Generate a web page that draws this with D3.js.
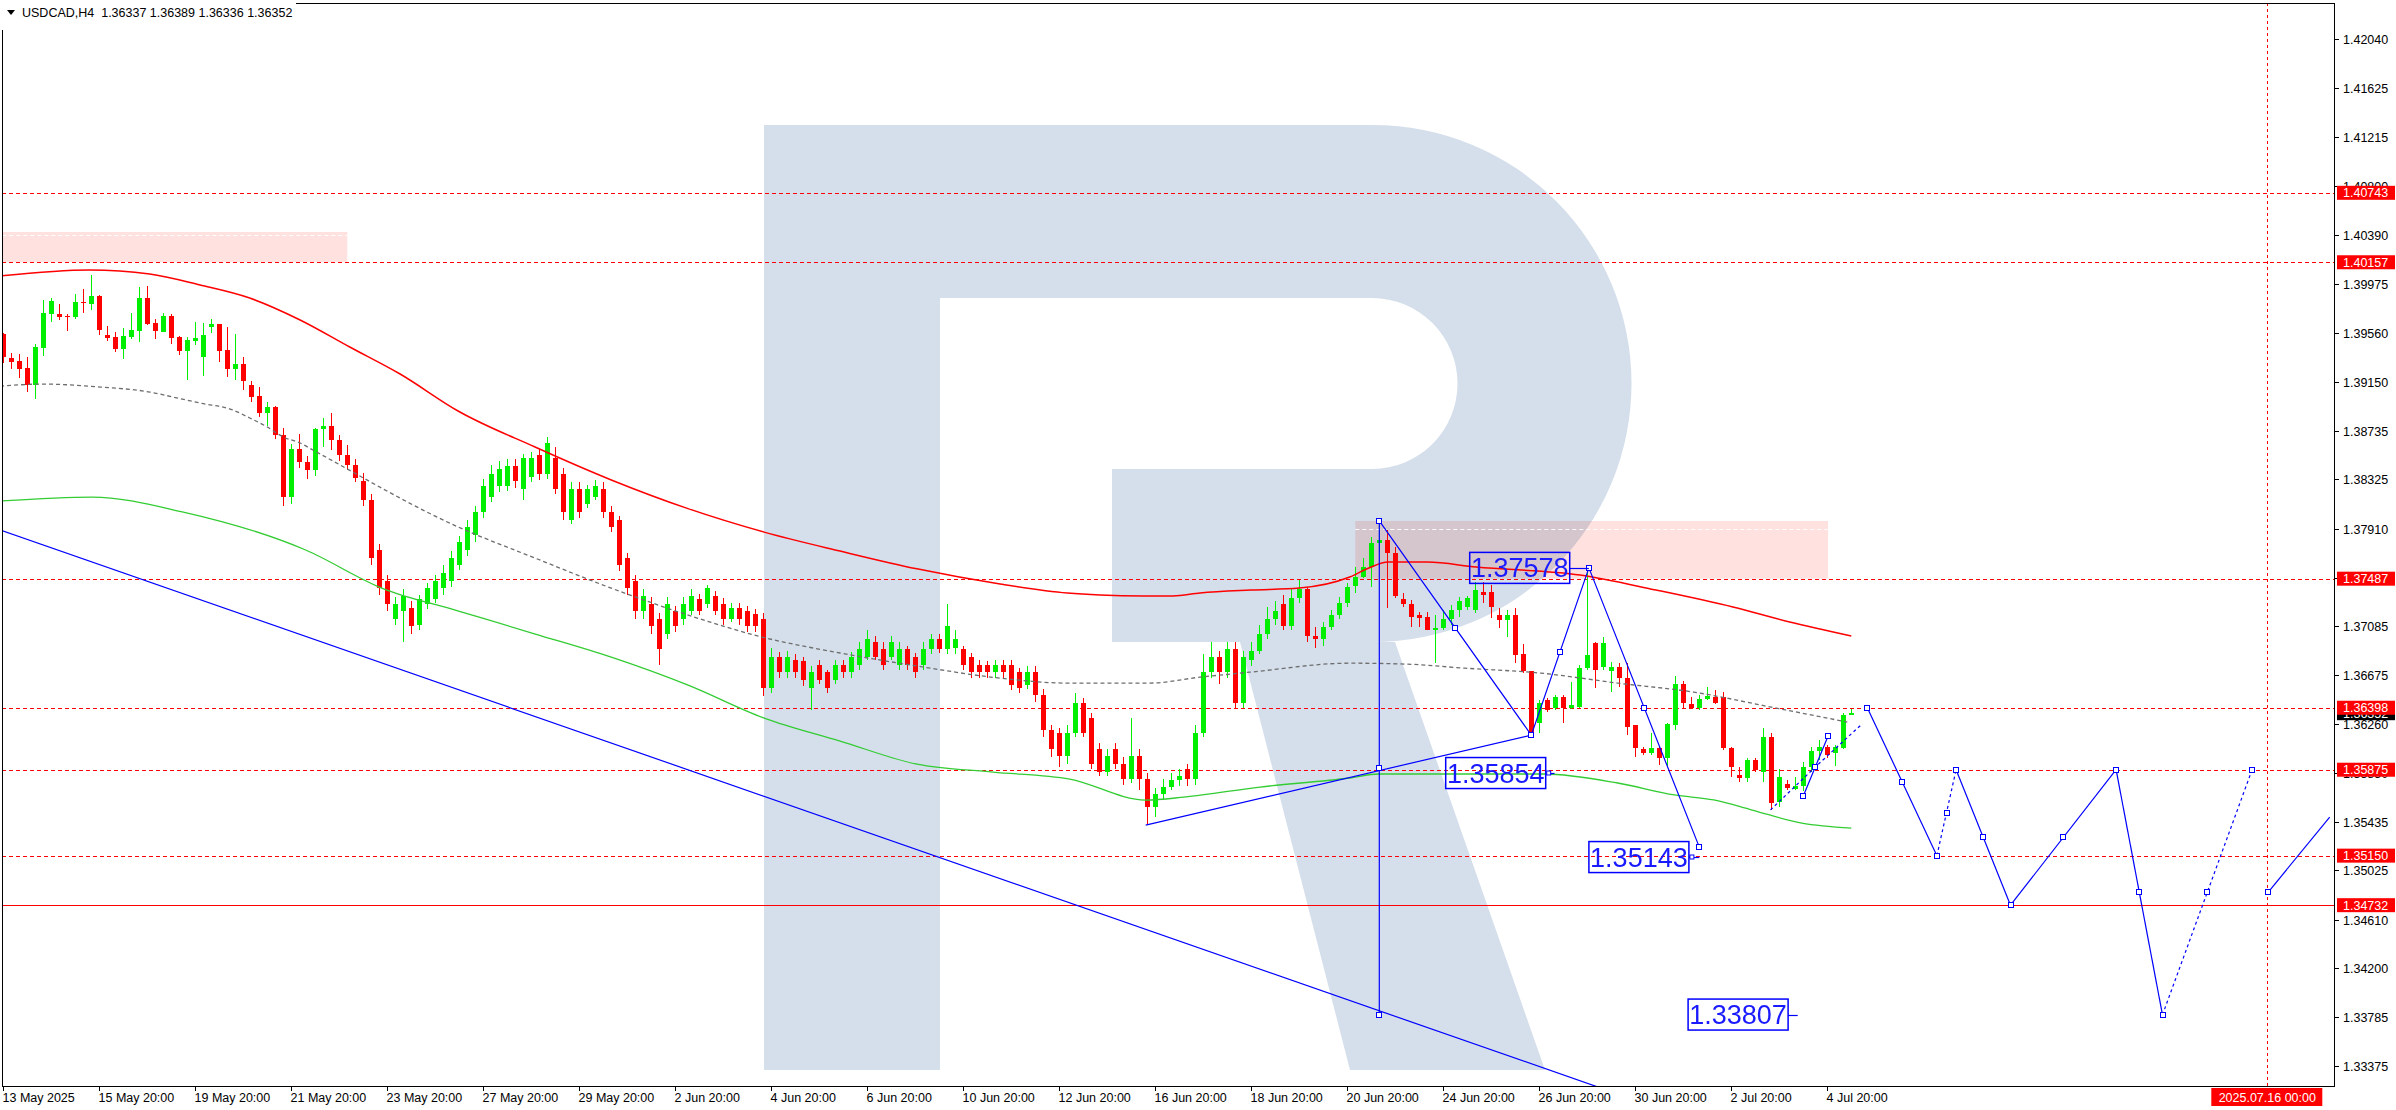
<!DOCTYPE html>
<html><head><meta charset="utf-8">
<script src="https://cdn.jsdelivr.net/npm/d3@7"></script>
<style>
html,body{margin:0;padding:0;background:#fff;overflow:hidden;}
svg{display:block;font-family:"Liberation Sans",Arial,sans-serif;}
</style></head><body>
<svg id="chart" width="2396" height="1110"></svg>
<script>
// ---------------- DATA ----------------
const symbolTitle = "USDCAD,H4";
const headerValues = ["1.36337", "1.36389", "1.36336", "1.36352"];

const openP = [
1.39551,1.39346,1.39323,1.39264,1.39121,1.39436,1.39723,1.39720,1.39706,1.39697,
1.39821,1.39807,1.39872,1.39543,1.39526,1.39424,1.39526,1.39576,1.39855,1.39644,
1.39568,1.39703,1.39526,1.39410,1.39495,1.39360,1.39613,1.39635,1.39416,1.39258,
1.39298,1.39121,1.39028,1.38887,1.38935,1.38702,1.38180,1.38580,1.38470,1.38400,
1.38752,1.38775,1.38656,1.38530,1.38450,1.38309,1.38150,1.37728,1.37471,1.37148,
1.37213,1.37238,1.37100,1.37277,1.37316,1.37406,1.37471,1.37600,1.37728,1.37857,
1.38051,1.38180,1.38270,1.38270,1.38438,1.38244,1.38347,1.38528,1.38373,1.38502,
1.38373,1.37986,1.38244,1.38115,1.38180,1.38244,1.38051,1.37986,1.37664,1.37471,
1.37213,1.37277,1.37148,1.37020,1.37213,1.37148,1.37213,1.37316,1.37277,1.37342,
1.37277,1.37148,1.37238,1.37213,1.37188,1.37148,1.36568,1.36826,1.36697,1.36800,
1.36790,1.36568,1.36761,1.36697,1.36633,1.36761,1.36697,1.36761,1.36826,1.36955,
1.36890,1.36826,1.36761,1.36890,1.36826,1.36761,1.36890,1.36981,1.36890,1.36900,
1.36890,1.36826,1.36761,1.36761,1.36697,1.36761,1.36761,1.36697,1.36594,1.36697,
1.36503,1.36207,1.36181,1.35988,1.36181,1.36439,1.36310,1.36052,1.35859,1.36052,
1.35923,1.35794,1.35990,1.35794,1.35560,1.35666,1.35730,1.35790,1.35880,1.35794,
1.36181,1.36697,1.36826,1.36697,1.36890,1.36439,1.36800,1.36880,1.37020,1.37150,
1.37270,1.37084,1.37320,1.37400,1.37000,1.36980,1.37080,1.37180,1.37280,1.37428,
1.37498,1.37588,1.37785,1.37813,1.37701,1.37316,1.37271,1.37181,1.37167,1.37050,
1.37069,1.37150,1.37224,1.37250,1.37224,1.37378,1.37378,1.37181,1.37139,1.37181,
1.36853,1.36704,1.36266,1.36463,1.36393,1.36491,1.36393,1.36407,1.36731,1.36942,
1.36745,1.36711,1.36745,1.36646,1.36252,1.36047,1.36013,1.36056,1.35971,1.36252,
1.36600,1.36431,1.36393,1.36470,1.36491,1.36491,1.36056,1.35831,1.35803,1.35957,
1.35859,1.36154,1.35606,1.35754,1.35712,1.35734,1.35901,1.36029,1.36070,1.36014,
1.36056,1.36337];
const highP = [
1.39560,1.39394,1.39382,1.39357,1.39467,1.39838,1.39855,1.39804,1.39720,1.39889,
1.39931,1.40046,1.39880,1.39619,1.39568,1.39602,1.39725,1.39948,1.39956,1.39678,
1.39728,1.39717,1.39534,1.39523,1.39652,1.39644,1.39678,1.39635,1.39610,1.39551,
1.39357,1.39157,1.39101,1.38977,1.38943,1.38760,1.38620,1.38712,1.38520,1.38760,
1.38842,1.38885,1.38700,1.38617,1.38500,1.38380,1.38200,1.37780,1.37520,1.37330,
1.37400,1.37300,1.37350,1.37450,1.37520,1.37600,1.37720,1.37850,1.37980,1.38100,
1.38330,1.38450,1.38480,1.38500,1.38500,1.38540,1.38560,1.38580,1.38680,1.38600,
1.38420,1.38300,1.38300,1.38280,1.38320,1.38300,1.38100,1.38020,1.37700,1.37520,
1.37400,1.37330,1.37200,1.37330,1.37260,1.37330,1.37400,1.37360,1.37430,1.37380,
1.37320,1.37280,1.37280,1.37260,1.37230,1.37200,1.36900,1.36870,1.36880,1.36850,
1.36830,1.36750,1.36800,1.36720,1.36800,1.36800,1.36870,1.36950,1.37050,1.37000,
1.36950,1.37000,1.36950,1.36920,1.36860,1.36950,1.37020,1.37020,1.37270,1.37050,
1.36920,1.36860,1.36800,1.36790,1.36800,1.36800,1.36800,1.36730,1.36750,1.36750,
1.36560,1.36250,1.36230,1.36250,1.36520,1.36480,1.36350,1.36100,1.36050,1.36100,
1.35980,1.36310,1.36050,1.35850,1.35720,1.35800,1.35850,1.35880,1.35920,1.36250,
1.36850,1.36950,1.36880,1.36950,1.36950,1.36880,1.36950,1.37100,1.37250,1.37300,
1.37350,1.37400,1.37480,1.37420,1.37080,1.37120,1.37220,1.37330,1.37450,1.37588,
1.37659,1.37842,1.37960,1.37900,1.37757,1.37364,1.37307,1.37209,1.37209,1.37182,
1.37224,1.37266,1.37335,1.37340,1.37462,1.37462,1.37434,1.37237,1.37224,1.37237,
1.36937,1.36704,1.36463,1.36477,1.36507,1.36507,1.36618,1.36759,1.37586,1.36956,
1.36998,1.36787,1.36773,1.36773,1.36252,1.36070,1.36182,1.36064,1.36268,1.36667,
1.36620,1.36491,1.36507,1.36577,1.36548,1.36534,1.36070,1.35901,1.35971,1.35971,
1.36224,1.36182,1.35880,1.35790,1.35817,1.35944,1.36070,1.36127,1.36084,1.36084,
1.36352,1.36389];
const lowP = [
1.39303,1.39256,1.39177,1.39064,1.39005,1.39368,1.39655,1.39672,1.39579,1.39678,
1.39731,1.39756,1.39545,1.39495,1.39399,1.39340,1.39506,1.39483,1.39627,1.39509,
1.39568,1.39469,1.39374,1.39163,1.39458,1.39197,1.39562,1.39318,1.39191,1.39163,
1.39078,1.38980,1.38853,1.38777,1.38668,1.38100,1.38120,1.38420,1.38330,1.38350,
1.38600,1.38570,1.38480,1.38400,1.38300,1.38100,1.37600,1.37350,1.37213,1.37100,
1.36950,1.37020,1.37050,1.37230,1.37280,1.37350,1.37420,1.37560,1.37680,1.37800,
1.38000,1.38130,1.38220,1.38230,1.38250,1.38150,1.38300,1.38320,1.38330,1.38200,
1.37980,1.37950,1.38000,1.38080,1.38150,1.38000,1.37880,1.37550,1.37350,1.37150,
1.37150,1.37020,1.36761,1.36980,1.37040,1.37100,1.37180,1.37180,1.37240,1.37180,
1.37100,1.37120,1.37100,1.37040,1.37040,1.36500,1.36520,1.36650,1.36650,1.36650,
1.36580,1.36380,1.36600,1.36520,1.36600,1.36650,1.36650,1.36720,1.36800,1.36800,
1.36720,1.36800,1.36720,1.36720,1.36650,1.36720,1.36850,1.36860,1.36850,1.36850,
1.36720,1.36650,1.36650,1.36650,1.36650,1.36650,1.36550,1.36520,1.36560,1.36450,
1.36150,1.35980,1.35900,1.35920,1.36150,1.36150,1.35880,1.35820,1.35820,1.35880,
1.35750,1.35760,1.35700,1.35408,1.35480,1.35620,1.35700,1.35740,1.35740,1.35750,
1.36150,1.36650,1.36600,1.36650,1.36400,1.36400,1.36750,1.36850,1.36980,1.37100,
1.37050,1.37050,1.37280,1.36950,1.36900,1.36920,1.37050,1.37150,1.37250,1.37363,
1.37490,1.37414,1.37700,1.37240,1.37321,1.37251,1.37083,1.37083,1.37050,1.36774,
1.37055,1.37100,1.37167,1.37220,1.37200,1.37279,1.37153,1.37069,1.36998,1.36774,
1.36690,1.36168,1.36182,1.36365,1.36379,1.36268,1.36386,1.36393,1.36717,1.36562,
1.36717,1.36534,1.36576,1.36168,1.35985,1.36000,1.36000,1.35917,1.35903,1.36210,
1.36393,1.36386,1.36375,1.36463,1.36431,1.36042,1.35817,1.35775,1.35775,1.35859,
1.35775,1.35536,1.35564,1.35706,1.35706,1.35692,1.35859,1.35957,1.35973,1.35908,
1.36047,1.36336];
const closeP = [
1.39354,1.39318,1.39256,1.39121,1.39441,1.39725,1.39830,1.39697,1.39700,1.39821,
1.39815,1.39872,1.39588,1.39520,1.39424,1.39534,1.39585,1.39855,1.39636,1.39579,
1.39703,1.39520,1.39410,1.39500,1.39517,1.39540,1.39635,1.39410,1.39258,1.39298,
1.39157,1.39022,1.38887,1.38935,1.38702,1.38180,1.38580,1.38470,1.38400,1.38752,
1.38775,1.38656,1.38530,1.38450,1.38340,1.38150,1.37664,1.37406,1.37277,1.37277,
1.37342,1.37084,1.37316,1.37406,1.37471,1.37535,1.37664,1.37793,1.37922,1.38051,
1.38270,1.38373,1.38412,1.38438,1.38309,1.38502,1.38502,1.38373,1.38631,1.38244,
1.38051,1.38244,1.38051,1.38244,1.38270,1.38051,1.37922,1.37600,1.37406,1.37213,
1.37342,1.37084,1.36890,1.37277,1.37084,1.37277,1.37342,1.37213,1.37406,1.37213,
1.37148,1.37238,1.37148,1.37084,1.37084,1.36568,1.36826,1.36697,1.36826,1.36697,
1.36633,1.36697,1.36633,1.36568,1.36761,1.36697,1.36826,1.36890,1.36981,1.36826,
1.36761,1.36955,1.36890,1.36761,1.36697,1.36890,1.36981,1.36890,1.37084,1.36981,
1.36761,1.36697,1.36697,1.36697,1.36761,1.36697,1.36594,1.36568,1.36697,1.36503,
1.36207,1.36052,1.35988,1.36181,1.36439,1.36181,1.35923,1.35859,1.35988,1.35923,
1.35794,1.35990,1.35794,1.35560,1.35666,1.35730,1.35790,1.35820,1.35794,1.36181,
1.36697,1.36826,1.36697,1.36890,1.36439,1.36826,1.36880,1.37020,1.37150,1.37213,
1.37084,1.37320,1.37400,1.37000,1.36980,1.37080,1.37180,1.37280,1.37420,1.37504,
1.37588,1.37785,1.37813,1.37701,1.37341,1.37271,1.37167,1.37153,1.37055,1.37069,
1.37150,1.37224,1.37300,1.37321,1.37392,1.37349,1.37251,1.37139,1.37181,1.36844,
1.36704,1.36182,1.36435,1.36379,1.36491,1.36393,1.36421,1.36731,1.36844,1.36717,
1.36942,1.36745,1.36646,1.36238,1.36056,1.36013,1.36056,1.35971,1.36262,1.36600,
1.36442,1.36393,1.36472,1.36498,1.36435,1.36056,1.35901,1.35803,1.35957,1.35873,
1.36154,1.35592,1.35817,1.35720,1.35740,1.35901,1.36029,1.36070,1.36000,1.36070,
1.36338,1.36352];

// moving averages (read at sample bars)
const redMaBar = [-0.4,10.8,18.3,24.6,30.8,37.1,43.3,49.6,56.9,66.4,76,85.5,95.1,104.6,114.2,124.6,133,137.1,142.5,146.2,149.6,155.9,162,168.3,170.7,173.1,178,184.1,197.1,206.6,216.2,223.3,231];
const redMaVal = [1.40041,1.40091,1.40058,1.39965,1.39855,1.39670,1.39442,1.39214,1.38900,1.38600,1.38320,1.38080,1.37880,1.37720,1.37570,1.37442,1.37366,1.37349,1.37341,1.37341,1.37366,1.37391,1.37408,1.37501,1.37577,1.37627,1.37627,1.37585,1.37518,1.37391,1.37248,1.37121,1.37003];
const grayMaBar = [-0.4,5,12.1,18.3,21.2,24.6,28.7,30.8,33,35,37.1,38.7,56.9,66.5,76,85.6,95.1,104.6,114.2,124.6,133,143.3,149.6,155.8,168.3,175.4,182.7,192.2,201.8,211.3,221,230.5];
const grayMaVal = [1.39112,1.39129,1.39104,1.39062,1.39020,1.38969,1.38910,1.38843,1.38767,1.38682,1.38632,1.38573,1.37922,1.37660,1.37407,1.37180,1.36990,1.36860,1.36750,1.36648,1.36606,1.36606,1.36656,1.36698,1.36774,1.36766,1.36732,1.36690,1.36606,1.36530,1.36403,1.36277];
const greenMaBar = [-0.4,11.1,22.5,37.8,47.3,56.9,66.5,76,85.6,95.1,104.6,114.2,123.7,133.3,142.8,147.6,157.1,168.3,171.9,180.3,192.7,201.8,208.9,213.8,218.6,224.8,231];
const greenMaVal = [1.38142,1.38176,1.38049,1.37729,1.37408,1.37214,1.37020,1.36825,1.36589,1.36311,1.36117,1.35922,1.35855,1.35796,1.35619,1.35644,1.35729,1.35805,1.35839,1.35839,1.35839,1.35763,1.35662,1.35620,1.35535,1.35425,1.35383];

// price axis
const priceTicks = [1.42040,1.41625,1.41215,1.40800,1.40390,1.39975,1.39560,1.39150,1.38735,1.38325,1.37910,1.37495,1.37085,1.36675,1.36260,1.35850,1.35435,1.35025,1.34610,1.34200,1.33785,1.33375];
// time axis
const timeLabels = ["13 May 2025","15 May 20:00","19 May 20:00","21 May 20:00","23 May 20:00","27 May 20:00","29 May 20:00","2 Jun 20:00","4 Jun 20:00","6 Jun 20:00","10 Jun 20:00","12 Jun 20:00","16 Jun 20:00","18 Jun 20:00","20 Jun 20:00","24 Jun 20:00","26 Jun 20:00","30 Jun 20:00","2 Jul 20:00","4 Jul 20:00"];
const timeLabelBar = [0,12,24,36,48,60,72,84,96,108,120,132,144,156,168,180,192,204,216,228];

// horizontal levels
const dashedLevels = [1.40743,1.40157,1.37487,1.36398,1.35875,1.35150];
const solidLevels = [1.34732];
const currentPrice = 1.36352;
const markerDateBar = 283;
const markerDateText = "2025.07.16 00:00";

// zones (pink rectangles)
const zoneStartBar = [-1, 169];
const zoneEndBar = [43, 228.1];
const zoneLow = [1.40157, 1.37487];
const zoneHigh = [1.40412, 1.37974];
const zoneInnerLine = [1.40390, 1.37910];

// blue analysis lines
const trendBars = [-0.4, 199.7];
const trendVals = [1.37898, 1.33189];
const supportBars = [142.8, 191];
const supportVals = [1.35408, 1.36167];
const verticalBar = 172;
const verticalVals = [1.37974, 1.33809];
const waveBars = [172, 191, 198.2, 212];
const waveVals = [1.37974, 1.36167, 1.37578, 1.35222];
const forecastBars = [233, 241.7, 244.1, 250.9, 264.1, 269.9, 281.1];
const forecastVals = [1.36398, 1.35150, 1.35875, 1.34732, 1.35875, 1.33807, 1.35875];
const forecastDotted = [false, true, false, false, false, true];
const tailBars = [283.1, 290.8];
const tailVals = [1.34841, 1.35476];
const nearDotBars = [220.9, 226.5, 232.2];
const nearDotVals = [1.35536, 1.35898, 1.36252];
const nearSolidBars = [225, 228.1];
const nearSolidVals = [1.35654, 1.36159];

// price labels
const priceLabelText = ["1.37578","1.35854","1.35143","1.33807"];
const priceLabelBar = [195.8, 192.8, 210.7, 223.1];
const priceLabelVal = [1.37578, 1.35847, 1.35138, 1.33809];
const priceLabelLineTo = [198.2, 193.9, 212, 224.3];
const priceLabelAnchor = [false, true, true, false];

// ---------------- DRAW ----------------
const svg = d3.select("#chart");
const plotL = 2, plotR = 2334, plotT = 3, plotB = 1086;
const x = d3.scaleLinear().domain([0, 283]).range([3.3, 2267.3]);
const y = d3.scaleLinear().domain([1.42040, 1.33375]).range([39.1, 1066.0]);

const RED = "#ff0000", LIME = "#00ee00", BLUE = "#0000ff";

svg.append("defs").append("clipPath").attr("id","plotclip")
  .append("rect").attr("x",plotL).attr("y",plotT).attr("width",plotR-plotL).attr("height",plotB-plotT);

const plot = svg.append("g").attr("clip-path","url(#plotclip)");

// watermark logo
const logo = plot.append("g").attr("fill","#d5dfeb");
logo.append("path").attr("d","M764,125 H1373 A258.5,258.5 0 0 1 1373,642 H1112 V469 H1372 A85.5,85.5 0 0 0 1372,298 H940 V1070 H764 Z");
logo.append("path").attr("d","M1240,642 L1395,642 L1545,1070 L1350,1070 Z");

// zones
zoneStartBar.forEach((s,i)=>{
  plot.append("rect")
    .attr("x", x(s)).attr("width", x(zoneEndBar[i]) - x(s))
    .attr("y", y(zoneHigh[i])).attr("height", y(zoneLow[i]) - y(zoneHigh[i]))
    .attr("fill","#ffe2df").style("mix-blend-mode","multiply");
  plot.append("line")
    .attr("x1", x(s)).attr("x2", x(zoneEndBar[i]))
    .attr("y1", Math.round(y(zoneInnerLine[i]))+0.5).attr("y2", Math.round(y(zoneInnerLine[i]))+0.5)
    .attr("stroke","#ffffff").attr("stroke-width",1).attr("stroke-dasharray","4,3");
});

// horizontal levels
dashedLevels.forEach(v=>{
  const yy = Math.round(y(v))+0.5;
  plot.append("line").attr("x1",plotL).attr("x2",plotR).attr("y1",yy).attr("y2",yy)
    .attr("stroke",RED).attr("stroke-width",1).attr("stroke-dasharray","4,3");
});
solidLevels.forEach(v=>{
  const yy = Math.round(y(v))+0.5;
  plot.append("line").attr("x1",plotL).attr("x2",plotR).attr("y1",yy).attr("y2",yy)
    .attr("stroke",RED).attr("stroke-width",1);
});
// vertical date marker
{
  const xx = Math.round(x(markerDateBar))+0.5;
  plot.append("line").attr("x1",xx).attr("x2",xx).attr("y1",plotT).attr("y2",plotB)
    .attr("stroke",RED).attr("stroke-width",1).attr("stroke-dasharray","3,3");
}

// candles
const candles = plot.append("g").attr("shape-rendering","crispEdges");
openP.forEach((o,i)=>{
  const c = closeP[i];
  const h = Math.max(highP[i], o, c), l = Math.min(lowP[i], o, c);
  const col = c >= o ? LIME : RED;
  const cx = Math.round(x(i));
  candles.append("line").attr("x1",cx+0.5).attr("x2",cx+0.5)
    .attr("y1",y(h)).attr("y2",y(l)).attr("stroke",col).attr("stroke-width",1);
  const y1 = Math.min(y(o),y(c)), y2 = Math.max(y(o),y(c));
  candles.append("rect").attr("x",cx-2).attr("width",5)
    .attr("y",y1).attr("height",Math.max(1,y2-y1)).attr("fill",col);
});

// moving averages
const lineGen = d3.line().x(d=>x(d[0])).y(d=>y(d[1])).curve(d3.curveMonotoneX);
plot.append("path").datum(greenMaBar.map((b,i)=>[b,greenMaVal[i]]))
  .attr("d",lineGen).attr("fill","none").attr("stroke","#33cc33").attr("stroke-width",1.3);
plot.append("path").datum(grayMaBar.map((b,i)=>[b,grayMaVal[i]]))
  .attr("d",lineGen).attr("fill","none").attr("stroke","#6e6e6e").attr("stroke-width",1.3).attr("stroke-dasharray","4,3");
plot.append("path").datum(redMaBar.map((b,i)=>[b,redMaVal[i]]))
  .attr("d",lineGen).attr("fill","none").attr("stroke",RED).attr("stroke-width",1.5);

// blue lines
const straight = d3.line().x(d=>x(d[0])).y(d=>y(d[1]));
const blue = plot.append("g").attr("fill","none").attr("stroke",BLUE).attr("stroke-width",1.2);
function seg(bars, vals, dotted){
  blue.append("path").datum(bars.map((b,i)=>[b,vals[i]])).attr("d",straight)
    .attr("stroke-dasharray", dotted ? "3,3" : null);
}
seg(trendBars, trendVals, false);
seg(supportBars, supportVals, false);
seg([verticalBar, verticalBar], verticalVals, false);
seg(waveBars, waveVals, false);
for (let i=0;i<forecastBars.length-1;i++){
  seg([forecastBars[i],forecastBars[i+1]],[forecastVals[i],forecastVals[i+1]],forecastDotted[i]);
}
seg(tailBars, tailVals, false);
seg(nearDotBars, nearDotVals, true);
seg(nearSolidBars, nearSolidVals, false);

// nodes (ends + midpoints of selected lines)
const nodes = [];
function addNodes(b0,v0,b1,v1){ nodes.push([b0,v0],[ (b0+b1)/2,(v0+v1)/2 ],[b1,v1]); }
addNodes(verticalBar, verticalVals[0], verticalBar, verticalVals[1]);
for (let i=0;i<waveBars.length-1;i++) addNodes(waveBars[i],waveVals[i],waveBars[i+1],waveVals[i+1]);
for (let i=0;i<forecastBars.length-1;i++) addNodes(forecastBars[i],forecastVals[i],forecastBars[i+1],forecastVals[i+1]);
nodes.push([tailBars[0], tailVals[0]]);
nodes.push([nearSolidBars[0], nearSolidVals[0]],[nearDotBars[1], nearDotVals[1]],[nearSolidBars[1], nearSolidVals[1]]);
const nodeG = plot.append("g");
nodes.forEach(n=>{
  nodeG.append("rect").attr("x",Math.round(x(n[0]))-2.5).attr("y",Math.round(y(n[1]))-2.5)
    .attr("width",5).attr("height",5).attr("fill","#fff").attr("stroke",BLUE).attr("stroke-width",1);
});

// price labels
const labG = plot.append("g");
priceLabelText.forEach((t,i)=>{
  const xr = x(priceLabelBar[i]);
  const yc = y(priceLabelVal[i]);
  const w = 100, h = 31;
  labG.append("rect").attr("x",xr-w).attr("y",yc-h/2).attr("width",w).attr("height",h)
    .attr("fill","none").attr("stroke",BLUE).attr("stroke-width",1.5);
  labG.append("text").attr("x",xr-w/2).attr("y",yc+9.5).attr("text-anchor","middle")
    .attr("font-size",27).attr("fill","#1a1aff").text(t);
  labG.append("line").attr("x1",xr).attr("x2",x(priceLabelLineTo[i]))
    .attr("y1",Math.round(yc)+0.5).attr("y2",Math.round(yc)+0.5).attr("stroke",BLUE).attr("stroke-width",1.2);
  if (priceLabelAnchor[i]) {
    labG.append("rect").attr("x",xr+1).attr("y",Math.round(yc)-2).attr("width",4).attr("height",4)
      .attr("fill","#fff").attr("stroke",BLUE).attr("stroke-width",1);
  }
});

// ---------------- FRAME & AXES ----------------
const axis = svg.append("g").attr("shape-rendering","crispEdges");
axis.append("rect").attr("x",plotL+0.5).attr("y",plotT+0.5).attr("width",plotR-plotL).attr("height",plotB-plotT)
  .attr("fill","none").attr("stroke","#000").attr("stroke-width",1);

// price ticks
priceTicks.forEach(v=>{
  const yy = Math.round(y(v))+0.5;
  axis.append("line").attr("x1",plotR).attr("x2",plotR+5).attr("y1",yy).attr("y2",yy).attr("stroke","#000");
  svg.append("text").attr("x",plotR+9).attr("y",yy+4.5).attr("font-size",12.5).attr("fill","#000").text(v.toFixed(5));
});
// time ticks
timeLabelBar.forEach((b,i)=>{
  const xx = Math.round(x(b))+0.5;
  axis.append("line").attr("x1",xx).attr("x2",xx).attr("y1",plotB).attr("y2",plotB+5).attr("stroke","#000");
  svg.append("text").attr("x",xx-1).attr("y",plotB+16).attr("font-size",12.5).attr("fill","#000").text(timeLabels[i]);
});

// current price label (black) then level labels
function axisLabel(v, fill){
  const yc = y(v);
  svg.append("rect").attr("x",plotR+3).attr("y",yc-7).attr("width",58).attr("height",14).attr("fill",fill);
  svg.append("text").attr("x",plotR+9).attr("y",yc+4.5).attr("font-size",12.5).attr("fill","#fff").text(v.toFixed(5));
}
axisLabel(currentPrice, "#000");
dashedLevels.concat(solidLevels).forEach(v=>axisLabel(v, RED));

// date marker label
{
  const xc = x(markerDateBar);
  svg.append("rect").attr("x",xc-56).attr("y",plotB+2).attr("width",111).attr("height",18).attr("fill",RED);
  svg.append("text").attr("x",xc).attr("y",plotB+16).attr("text-anchor","middle")
    .attr("font-size",12.5).attr("fill","#fff").text(markerDateText);
}

// header
svg.append("rect").attr("x",0).attr("y",0).attr("width",296).attr("height",30).attr("fill","#fff");
svg.append("path").attr("d","M7,10 L15,10 L11,15 Z").attr("fill","#000");
svg.append("text").attr("x",22).attr("y",17).attr("font-size",12.5).attr("fill","#000")
  .attr("xml:space","preserve")
  .text(symbolTitle + "  " + headerValues.join(" "));
</script>
</body></html>
